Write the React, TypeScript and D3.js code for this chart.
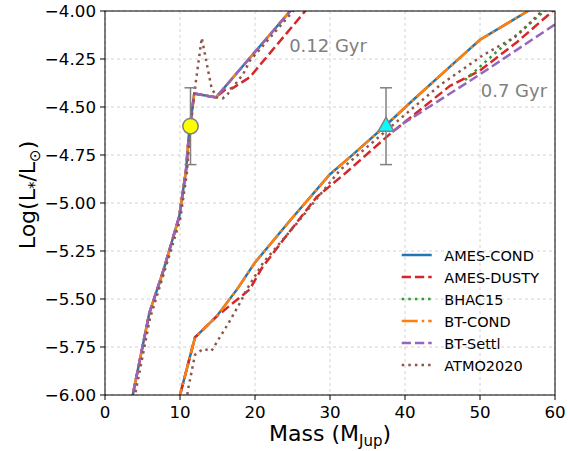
import React from 'react';
import * as d3 from 'd3';

const W = 570, H = 451;
const PL = 105, PR = 555, PT = 11, PB = 395;

const X_TICKS = [0, 10, 20, 30, 40, 50, 60];
const Y_TICKS = [-4.0, -4.25, -4.5, -4.75, -5.0, -5.25, -5.5, -5.75, -6.0];

// 0.12 Gyr isochrones  [mass (MJup), log L]
const AMES_COND_012 = [[3.0, -6.12], [3.7, -6.0], [5.9, -5.575], [7.8, -5.35], [9.9, -5.07], [10.8, -4.83], [11.2, -4.64], [11.9, -4.43], [14.8, -4.45], [19.3, -4.245], [24.7, -4.0], [27, -3.9]];
const AMES_DUSTY_012 = [[3.0, -6.12], [3.7, -6.0], [5.9, -5.575], [7.8, -5.35], [9.9, -5.07], [10.8, -4.83], [11.2, -4.64], [11.9, -4.43], [14.8, -4.45], [16.0, -4.41], [17.1, -4.40], [19.3, -4.345], [26.7, -4.0], [28, -3.94]];
const BT_COND_012 = [[3.0, -6.12], [3.7, -6.0], [5.9, -5.575], [7.8, -5.35], [9.9, -5.07], [10.8, -4.83], [11.2, -4.64], [11.9, -4.43], [14.8, -4.45], [19.3, -4.245], [24.7, -4.0], [27, -3.9]];
const BT_SETTL_012 = [[3.0, -6.12], [3.7, -6.0], [5.9, -5.575], [7.8, -5.35], [9.9, -5.07], [10.8, -4.83], [11.2, -4.64], [11.9, -4.43], [14.8, -4.45], [19.3, -4.245], [24.7, -4.0], [27, -3.9]];
const ATMO2020_012 = [[3.3, -6.12], [4.0, -6.0], [6.0, -5.6], [7.9, -5.36], [10.0, -5.09], [10.9, -4.85], [11.3, -4.65], [11.9, -4.43], [12.9, -4.14], [14.2, -4.40], [14.9, -4.45], [15.7, -4.455], [16.4, -4.43], [18.4, -4.33], [19.3, -4.26], [25.1, -4.0], [27, -3.92]];

// 0.7 Gyr isochrones
const AMES_COND_07 = [[9.8, -6.05], [10.0, -6.0], [12.0, -5.70], [14.9, -5.59], [17.6, -5.45], [20.0, -5.31], [24.7, -5.09], [30.0, -4.85], [32.7, -4.76], [37.6, -4.59], [40.9, -4.47], [46.0, -4.29], [50.0, -4.15], [56.4, -4.0], [60, -3.92]];
const AMES_DUSTY_07 = [[9.8, -6.05], [10.0, -6.0], [12.0, -5.70], [14.9, -5.59], [19.3, -5.45], [20.9, -5.34], [23.8, -5.19], [28.2, -4.97], [32.2, -4.84], [38.0, -4.64], [46.0, -4.39], [50.0, -4.31], [55.0, -4.16], [60, -3.99]];
const BHAC15_07 = [[48.0, -4.36], [50.0, -4.29], [52.0, -4.22], [55.0, -4.12], [58.0, -4.02], [60, -3.96]];
const BT_COND_07 = [[9.8, -6.05], [10.0, -6.0], [12.0, -5.70], [14.9, -5.59], [17.6, -5.45], [20.0, -5.31], [24.7, -5.09], [30.0, -4.85], [32.7, -4.76], [37.6, -4.59], [40.9, -4.47], [46.0, -4.29], [50.0, -4.15], [56.4, -4.0], [60, -3.92]];
const BT_SETTL_07 = [[38.3, -4.63], [39.8, -4.585], [42.4, -4.52], [46.0, -4.43], [50.0, -4.33], [55.0, -4.20], [60, -4.07]];
const ATMO2020_07 = [[10.6, -6.1], [11.1, -5.965], [12.0, -5.79], [13.1, -5.76], [14.2, -5.77], [15.3, -5.70], [16.4, -5.63], [18.0, -5.52], [18.9, -5.45], [21.1, -5.31], [25.6, -5.105], [31.3, -4.83], [39.1, -4.57], [44.7, -4.385], [50.4, -4.23], [54.9, -4.13], [58.0, -4.01], [60, -3.96]];

const MODEL_NAMES = ['AMES-COND', 'AMES-DUSTY', 'BHAC15', 'BT-COND', 'BT-Settl', 'ATMO2020'];
const MODEL_COLORS = ['#1f77b4', '#d62728', '#2ca02c', '#ff7f0e', '#9467bd', '#8c564b'];
const MODEL_DASH = ['', '9.25,4', '2.5,4.1', '16,4,2.5,4', '9.25,4', '2.5,4.1'];
const MODEL_DATA = [
  [AMES_COND_012, AMES_COND_07],
  [AMES_DUSTY_012, AMES_DUSTY_07],
  [BHAC15_07],
  [BT_COND_012, BT_COND_07],
  [BT_SETTL_012, BT_SETTL_07],
  [ATMO2020_012, ATMO2020_07],
];

// observed objects
const OBJ_MASS = [11.4, 37.47];
const OBJ_LUM = [-4.6, -4.6];
const OBJ_ERR = [0.2, 0.2];
const OBJ_COLOR = ['#ffff00', '#00ffff'];
const OBJ_SHAPE = ['circle', 'triangle'];

const AGE_LABELS = ['0.12 Gyr', '0.7 Gyr'];
const AGE_POS = [[24.55, -4.212], [50.1, -4.446]];

const FONT = "'DejaVu Sans', sans-serif";

export default function App() {
  const x = d3.scaleLinear().domain([0, 60]).range([PL, PR]);
  const y = d3.scaleLinear().domain([-6, -4]).range([PB, PT]);
  const line = d3.line<number[]>().x(d => x(d[0])).y(d => y(d[1]));
  const fmtY = (v: number) => (v < 0 ? '\u2212' : '') + Math.abs(v).toFixed(2);

  return (
    <svg width={W} height={H} style={{ display: 'block', position: 'absolute', left: 0, top: 0 }} fontFamily={FONT}>
      <defs>
        <clipPath id="plot">
          <rect x={PL} y={PT} width={PR - PL} height={PB - PT} />
        </clipPath>
      </defs>
      <rect x={0} y={0} width={W} height={H} fill="#fff" />
      {/* grid */}
      <g stroke="#b0b0b0" strokeWidth={0.8} strokeDasharray="3,3" opacity={0.7}>
        {X_TICKS.map(t => <line key={'gx' + t} x1={x(t)} x2={x(t)} y1={PT} y2={PB} />)}
        {Y_TICKS.map(t => <line key={'gy' + t} x1={PL} x2={PR} y1={y(t)} y2={y(t)} />)}
      </g>
      {/* lines */}
      <g clipPath="url(#plot)" fill="none">
        {MODEL_DATA.map((segs, i) => segs.map((s, j) => (
          <path key={i + '-' + j} d={line(s as number[][]) || ''} stroke={MODEL_COLORS[i]} strokeWidth={2.5}
            strokeDasharray={MODEL_DASH[i] || undefined} />
        )))}
      </g>
      {/* error bars and markers */}
      {OBJ_MASS.map((m, i) => {
        const cx = x(m), cy = y(OBJ_LUM[i]);
        const y1 = y(OBJ_LUM[i] + OBJ_ERR[i]), y2 = y(OBJ_LUM[i] - OBJ_ERR[i]);
        return (
          <g key={'o' + i}>
            <g stroke="#808080" strokeWidth={1.5}>
              <line x1={cx} x2={cx} y1={y1} y2={y2} />
              <line x1={cx - 6} x2={cx + 6} y1={y1} y2={y1} />
              <line x1={cx - 6} x2={cx + 6} y1={y2} y2={y2} />
            </g>
            {OBJ_SHAPE[i] === 'circle' ? (
              <circle cx={cx} cy={cy} r={7.7} fill={OBJ_COLOR[i]} stroke="#808080" strokeWidth={1.5} />
            ) : (
              <path d={`M${cx},${cy - 9} L${cx + 7.8},${cy + 5} L${cx - 7.8},${cy + 5} Z`} fill={OBJ_COLOR[i]} stroke="#808080" strokeWidth={1.5} strokeLinejoin="miter" />
            )}
          </g>
        );
      })}
      {/* age labels */}
      {AGE_LABELS.map((t, i) => (
        <text key={'a' + i} x={x(AGE_POS[i][0])} y={y(AGE_POS[i][1])} fill="#808080" fontSize={18}>{t}</text>
      ))}
      {/* spines */}
      <rect x={PL} y={PT} width={PR - PL} height={PB - PT} fill="none" stroke="#000" strokeWidth={1} />
      {/* x ticks */}
      {X_TICKS.map(t => (
        <g key={'xt' + t}>
          <line x1={x(t)} x2={x(t)} y1={PB} y2={PB + 5} stroke="#000" />
          <text x={x(t)} y={PB + 23} textAnchor="middle" fontSize={16.7} fill="#000">{t}</text>
        </g>
      ))}
      {Y_TICKS.map(t => (
        <g key={'yt' + t}>
          <line x1={PL - 5} x2={PL} y1={y(t)} y2={y(t)} stroke="#000" />
          <text x={PL - 9} y={y(t) + 6} textAnchor="end" fontSize={16.7} fill="#000">{fmtY(t)}</text>
        </g>
      ))}
      {/* axis labels */}
      <text x={(PL + PR) / 2} y={441} textAnchor="middle" fontSize={22} fill="#000">
        Mass (M<tspan dy={5} fontSize={15}>Jup</tspan><tspan dy={-5}>)</tspan>
      </text>
      <text transform={`translate(35,${(PT + PB) / 2 - 8}) rotate(-90)`} textAnchor="middle" fontSize={22} fill="#000">
        Log(L<tspan dy={5} fontSize={15}>*</tspan><tspan dy={-5}>/L</tspan><tspan dy={5} fontSize={15}>⊙</tspan><tspan dy={-5}>)</tspan>
      </text>
      {/* legend */}
      {MODEL_NAMES.map((n, i) => {
        const ly = 255 + i * 22;
        return (
          <g key={'l' + i}>
            <line x1={401.7} x2={431.7} y1={ly} y2={ly} stroke={MODEL_COLORS[i]} strokeWidth={2.5} strokeDasharray={MODEL_DASH[i] || undefined} />
            <text x={444.3} y={ly + 5.5} fontSize={14.5} fill="#000">{n}</text>
          </g>
        );
      })}
    </svg>
  );
}
